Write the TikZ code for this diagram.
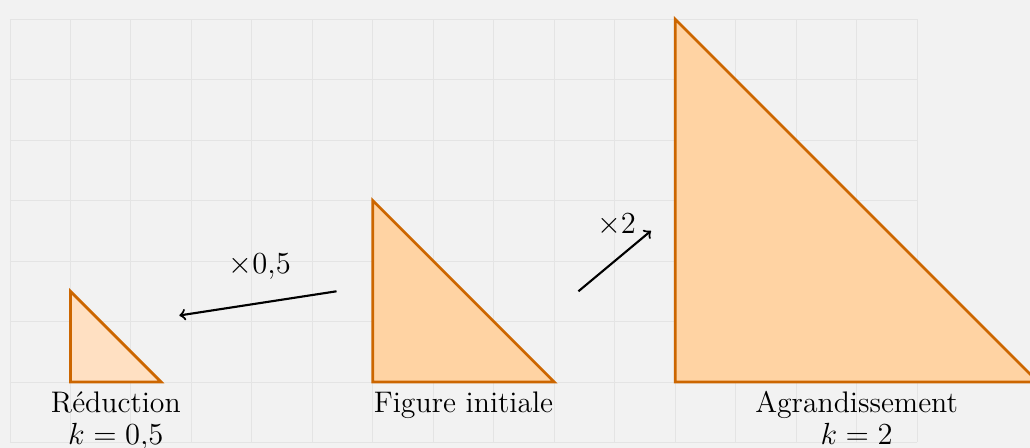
\documentclass[tikz,border=0pt]{standalone}
\usepackage{fontspec}
\definecolor{bgc}{HTML}{F2F2F2}
\definecolor{gridc}{HTML}{E4E4E4}
\definecolor{edgec}{HTML}{CC6600}
\definecolor{fillbig}{HTML}{FFD3A3}
\definecolor{fillsmall}{HTML}{FFE0C2}
\tikzset{
  tri/.style={draw=edgec, line width=1.3pt, line join=miter},
  lab/.style={anchor=base, inner sep=0pt, font=\fontsize{14}{16}\selectfont},
  arr/.style={->, line width=1pt, black},
}
\begin{document}
\begin{tikzpicture}[x=1cm,y=1cm]
\path[use as bounding box, fill=bgc] (-1.165,-1.091) rectangle (15.868,6.317);
\draw[gridc, line width=0.4pt] (-1,-1) grid (14,6);
% triangles
\filldraw[tri, fill=fillsmall] (0,0) -- (1.5,0) -- (0,1.5) -- cycle;
\filldraw[tri, fill=fillbig] (5,0) -- (8,0) -- (5,3) -- cycle;
\filldraw[tri, fill=fillbig] (10,0) -- (16,0) -- (10,6) -- cycle;
% labels
\node[lab] (r1) at (0.75,-0.51) {Réduction};
\node[lab] (r2) at (0.75,-1.04) {$k=0{,}5$};
\node[lab] (f1) at (6.5,-0.50) {Figure initiale};
\node[lab] (a1) at (13,-0.51) {Agrandissement};
\node[lab] (a2) at (13,-1.04) {$k=2$};
% arrows
\coordinate (s1) at (4.4,1.5);
\coordinate (e1) at (1.8,1.1);
\coordinate (s2) at (8.4,1.5);
\coordinate (e2) at (9.6,2.5);
\draw[arr] (s1) -- (e1);
\draw[arr] (s2) -- (e2);
\node[lab] (m1) at (3.13,1.80) {$\times0{,}5$};
\node[lab] (m2) at (9.03,2.45) {$\times2$};
\end{tikzpicture}
\end{document}
